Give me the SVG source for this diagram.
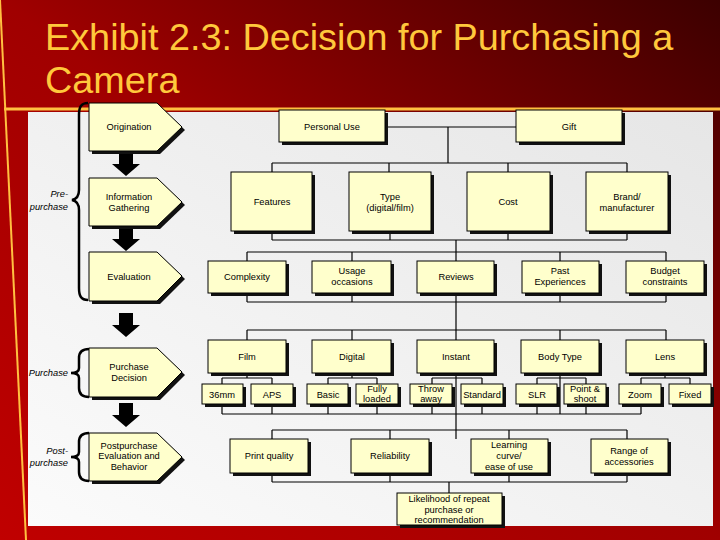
<svg xmlns="http://www.w3.org/2000/svg" width="720" height="540" viewBox="0 0 720 540">
<defs>
<linearGradient id="bg" x1="0" y1="1" x2="1" y2="0">
<stop offset="0" stop-color="#c00000"/>
<stop offset="0.5" stop-color="#a00000"/>
<stop offset="1" stop-color="#3c0000"/>
</linearGradient>
<linearGradient id="panel" x1="0" y1="1" x2="1" y2="0">
<stop offset="0" stop-color="#fbfbfb"/>
<stop offset="1" stop-color="#e6e6e6"/>
</linearGradient>
</defs>
<style>
.box{fill:#ffffcc;stroke:#000;stroke-width:1}
.sh{fill:#111}
.t{font-family:"Liberation Sans",Arial,sans-serif;font-size:9.3px;text-anchor:middle;fill:#000}
.lab{font-family:"Liberation Sans",Arial,sans-serif;font-size:9.3px;font-style:italic;text-anchor:end;fill:#000}
.con{fill:none;stroke:#000;stroke-width:1.2}
.brace{fill:none;stroke:#000;stroke-width:2.5}
.title{font-family:"Liberation Sans",Arial,sans-serif;font-size:37.8px;fill:#ffc83c}
</style>
<rect x="0" y="0" width="720" height="540" fill="url(#bg)"/>
<rect x="28" y="112" width="685" height="414" fill="url(#panel)"/>
<line x1="4" y1="109" x2="720" y2="109" stroke="#ffc040" stroke-width="3"/>
<line x1="0" y1="0" x2="26" y2="540" stroke="#ffc040" stroke-width="2"/>
<text class="title" x="45" y="50">Exhibit 2.3: Decision for Purchasing a</text>
<text class="title" x="45" y="93">Camera</text>

<g id="braces">
<path class="brace" d="M88,103 C81,103 79,107 79,115 L79,190 C79,196 77,199 72,200 C77,201 79,204 79,210 L79,288 C79,296 81,300 88,300"/>
<path class="brace" d="M89,349 C82,349 79,352 79,358 L79,368 C79,371 77,373 71,373 C77,373 79,375 79,378 L79,388 C79,394 82,397 89,397"/>
<path class="brace" d="M89,433 C82,433 79,436 79,442 L79,452 C79,455 77,457 71,457 C77,457 79,459 79,462 L79,472 C79,478 82,481 89,481"/>
<text class="lab" x="68" y="197">Pre-</text>
<text class="lab" x="68" y="210">purchase</text>
<text class="lab" x="68" y="376">Purchase</text>
<text class="lab" x="68" y="454">Post-</text>
<text class="lab" x="68" y="466">purchase</text>
</g>

<g id="stage-arrows">
<polygon points="119,154 133,154 133,164 140,164 126,176 112,164 119,164" fill="#000"/>
<polygon points="119,228 133,228 133,239 140,239 126,251 112,239 119,239" fill="#000"/>
<polygon points="119,313 133,313 133,325 140,325 126,337 112,325 119,325" fill="#000"/>
<polygon points="119,403 133,403 133,415 140,415 126,427 112,415 119,415" fill="#000"/>
</g>

<g id="origination">
<polygon class="sh" points="92,106 160,106 185,130 160,154 92,154"/>
<polygon class="box" points="89,103 157,103 182,127 157,151 89,151"/>
<text class="t" x="129" y="130">Origination</text>
</g>
<g id="information-gathering">
<polygon class="sh" points="92,181 160,181 185,205 160,229 92,229"/>
<polygon class="box" points="89,178 157,178 182,202 157,226 89,226"/>
<text class="t" x="129" y="200">Information</text>
<text class="t" x="129" y="211">Gathering</text>
</g>
<g id="evaluation">
<polygon class="sh" points="92,255 160,255 185,279 160,304 92,304"/>
<polygon class="box" points="89,252 157,252 182,276 157,301 89,301"/>
<text class="t" x="129" y="280">Evaluation</text>
</g>
<g id="purchase-decision">
<polygon class="sh" points="92,351 160,351 185,375 160,400 92,400"/>
<polygon class="box" points="89,348 157,348 182,372 157,397 89,397"/>
<text class="t" x="129" y="370">Purchase</text>
<text class="t" x="129" y="381">Decision</text>
</g>
<g id="postpurchase">
<polygon class="sh" points="92,436 160,436 185,460 160,484 92,484"/>
<polygon class="box" points="89,433 157,433 182,457 157,481 89,481"/>
<text class="t" x="129" y="449">Postpurchase</text>
<text class="t" x="129" y="459">Evaluation and</text>
<text class="t" x="129" y="470">Behavior</text>
</g>

<g id="connectors">
<path class="con" d="M386,127 H516 M448,127 V163 M272,163 H627 M272,163 V172 M389,163 V172 M508,163 V172 M627,163 V172"/>
<path class="con" d="M272,231 V240 M390,231 V240 M508,231 V240 M627,231 V240 M272,240 H627 M456,240 V261"/>
<path class="con" d="M247,252 H666 M247,252 V261 M352,252 V261 M560,252 V261 M666,252 V261"/>
<path class="con" d="M247,293 V302 M352,293 V302 M456,293 V340 M560,293 V302 M666,293 V302 M247,302 H666"/>
<path class="con" d="M247,330 H666 M247,330 V340 M352,330 V340 M560,330 V340 M666,330 V340"/>
<path class="con" d="M247,373 V378 M222,378 H272 M222,378 V384 M272,378 V384"/>
<path class="con" d="M352,373 V378 M328,378 H377 M328,378 V384 M377,378 V384"/>
<path class="con" d="M456,373 V439 M432,378 H482 M432,378 V384 M482,378 V384"/>
<path class="con" d="M560,373 V414 M537,378 H586 M537,378 V384 M586,378 V384"/>
<path class="con" d="M665,373 V378 M641,378 H690 M641,378 V384 M690,378 V384"/>
<path class="con" d="M222,404 V414 M272,404 V414 M328,404 V414 M377,404 V414 M432,404 V414 M482,404 V414 M537,404 V414 M586,404 V414 M641,404 V414 M222,414 H641"/>
<path class="con" d="M272,430 H627 M272,430 V439 M390,430 V439 M509,430 V439 M627,430 V439"/>
<path class="con" d="M272,473 V482 M390,473 V482 M509,473 V482 M627,473 V482 M272,482 H627 M449,482 V493"/>
</g>

<g id="personal-use"><rect class="sh" x="282" y="113" width="106" height="32"/><rect class="box" x="279" y="110" width="106" height="32"/><text class="t" x="332" y="130">Personal Use</text></g>
<g id="gift"><rect class="sh" x="519" y="113" width="106" height="32"/><rect class="box" x="516" y="110" width="106" height="32"/><text class="t" x="569" y="130">Gift</text></g>

<g id="features"><rect class="sh" x="234" y="175" width="81" height="59"/><rect class="box" x="231" y="172" width="81" height="59"/><text class="t" x="272" y="205">Features</text></g>
<g id="type"><rect class="sh" x="352" y="175" width="82" height="59"/><rect class="box" x="349" y="172" width="82" height="59"/><text class="t" x="390" y="200">Type</text><text class="t" x="390" y="211">(digital/film)</text></g>
<g id="cost"><rect class="sh" x="470" y="175" width="83" height="59"/><rect class="box" x="467" y="172" width="83" height="59"/><text class="t" x="508" y="205">Cost</text></g>
<g id="brand"><rect class="sh" x="589" y="175" width="82" height="59"/><rect class="box" x="586" y="172" width="82" height="59"/><text class="t" x="627" y="200">Brand/</text><text class="t" x="627" y="211">manufacturer</text></g>

<g id="complexity"><rect class="sh" x="211" y="264" width="78" height="32"/><rect class="box" x="208" y="261" width="78" height="32"/><text class="t" x="247" y="280">Complexity</text></g>
<g id="usage"><rect class="sh" x="315" y="264" width="79" height="32"/><rect class="box" x="312" y="261" width="79" height="32"/><text class="t" x="352" y="274">Usage</text><text class="t" x="352" y="285">occasions</text></g>
<g id="reviews"><rect class="sh" x="420" y="264" width="77" height="32"/><rect class="box" x="417" y="261" width="77" height="32"/><text class="t" x="456" y="280">Reviews</text></g>
<g id="past"><rect class="sh" x="525" y="264" width="77" height="32"/><rect class="box" x="522" y="261" width="77" height="32"/><text class="t" x="560" y="274">Past</text><text class="t" x="560" y="285">Experiences</text></g>
<g id="budget"><rect class="sh" x="629" y="264" width="78" height="32"/><rect class="box" x="626" y="261" width="78" height="32"/><text class="t" x="665" y="274">Budget</text><text class="t" x="665" y="285">constraints</text></g>

<g id="film"><rect class="sh" x="211" y="343" width="78" height="33"/><rect class="box" x="208" y="340" width="78" height="33"/><text class="t" x="247" y="360">Film</text></g>
<g id="digital"><rect class="sh" x="315" y="343" width="79" height="33"/><rect class="box" x="312" y="340" width="79" height="33"/><text class="t" x="352" y="360">Digital</text></g>
<g id="instant"><rect class="sh" x="420" y="343" width="77" height="33"/><rect class="box" x="417" y="340" width="77" height="33"/><text class="t" x="456" y="360">Instant</text></g>
<g id="body-type"><rect class="sh" x="524" y="343" width="78" height="33"/><rect class="box" x="521" y="340" width="78" height="33"/><text class="t" x="560" y="360">Body Type</text></g>
<g id="lens"><rect class="sh" x="629" y="343" width="78" height="33"/><rect class="box" x="626" y="340" width="78" height="33"/><text class="t" x="665" y="360">Lens</text></g>

<g id="mm36"><rect class="sh" x="205" y="387" width="41" height="20"/><rect class="box" x="202" y="384" width="41" height="20"/><text class="t" x="222" y="398">36mm</text></g>
<g id="aps"><rect class="sh" x="254" y="387" width="42" height="20"/><rect class="box" x="251" y="384" width="42" height="20"/><text class="t" x="272" y="398">APS</text></g>
<g id="basic"><rect class="sh" x="310" y="387" width="41" height="20"/><rect class="box" x="307" y="384" width="41" height="20"/><text class="t" x="328" y="398">Basic</text></g>
<g id="fully-loaded"><rect class="sh" x="359" y="387" width="42" height="20"/><rect class="box" x="356" y="384" width="42" height="20"/><text class="t" x="377" y="392">Fully</text><text class="t" x="377" y="402">loaded</text></g>
<g id="throw-away"><rect class="sh" x="413" y="387" width="42" height="20"/><rect class="box" x="410" y="384" width="42" height="20"/><text class="t" x="431" y="392">Throw</text><text class="t" x="431" y="402">away</text></g>
<g id="standard"><rect class="sh" x="464" y="387" width="42" height="20"/><rect class="box" x="461" y="384" width="42" height="20"/><text class="t" x="482" y="398">Standard</text></g>
<g id="slr"><rect class="sh" x="519" y="387" width="41" height="20"/><rect class="box" x="516" y="384" width="41" height="20"/><text class="t" x="537" y="398">SLR</text></g>
<g id="point-shoot"><rect class="sh" x="567" y="387" width="42" height="20"/><rect class="box" x="564" y="384" width="42" height="20"/><text class="t" x="585" y="392">Point &amp;</text><text class="t" x="585" y="402">shoot</text></g>
<g id="zoom"><rect class="sh" x="622" y="387" width="42" height="20"/><rect class="box" x="619" y="384" width="42" height="20"/><text class="t" x="640" y="398">Zoom</text></g>
<g id="fixed"><rect class="sh" x="672" y="387" width="42" height="20"/><rect class="box" x="669" y="384" width="42" height="20"/><text class="t" x="690" y="398">Fixed</text></g>

<g id="print-quality"><rect class="sh" x="233" y="442" width="78" height="34"/><rect class="box" x="230" y="439" width="78" height="34"/><text class="t" x="269" y="459">Print quality</text></g>
<g id="reliability"><rect class="sh" x="354" y="442" width="78" height="34"/><rect class="box" x="351" y="439" width="78" height="34"/><text class="t" x="390" y="459">Reliability</text></g>
<g id="learning-curve"><rect class="sh" x="474" y="442" width="77" height="34"/><rect class="box" x="471" y="439" width="77" height="34"/><text class="t" x="509" y="448">Learning</text><text class="t" x="509" y="459">curve/</text><text class="t" x="509" y="470">ease of use</text></g>
<g id="range"><rect class="sh" x="594" y="442" width="77" height="34"/><rect class="box" x="591" y="439" width="77" height="34"/><text class="t" x="629" y="454">Range of</text><text class="t" x="629" y="465">accessories</text></g>

<g id="likelihood"><rect class="sh" x="400" y="496" width="105" height="32"/><rect class="box" x="397" y="493" width="105" height="32"/><text class="t" x="449" y="502">Likelihood of repeat</text><text class="t" x="449" y="513">purchase or</text><text class="t" x="449" y="523">recommendation</text></g>
</svg>
